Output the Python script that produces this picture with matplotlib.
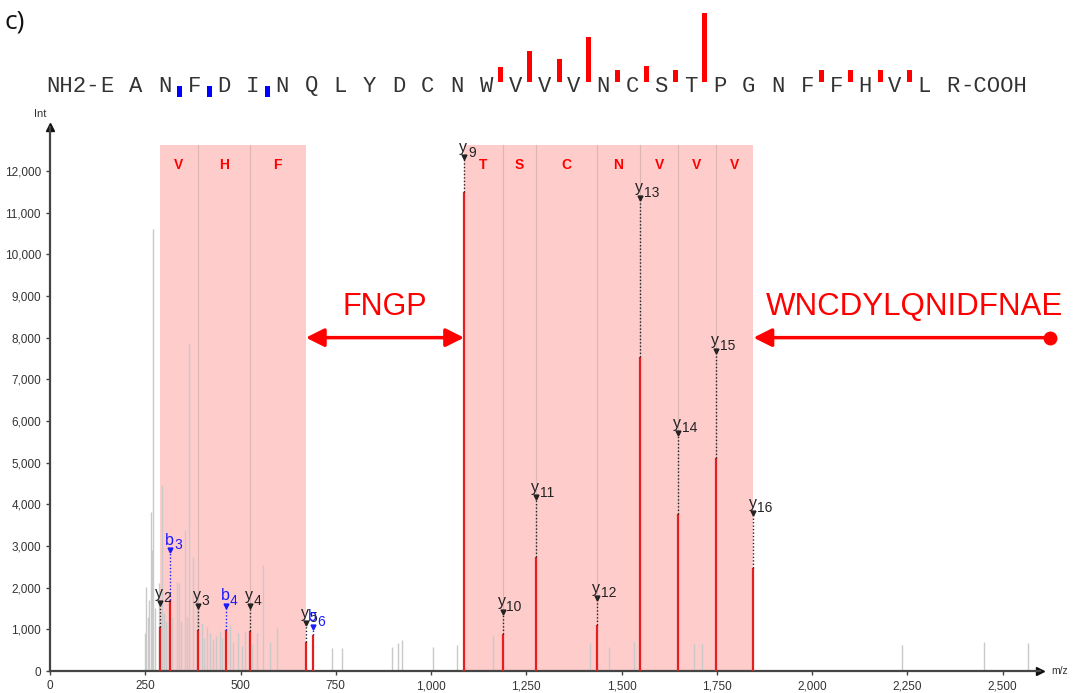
import matplotlib
matplotlib.use('Agg')
import matplotlib.pyplot as plt
from matplotlib.ticker import FuncFormatter

plt.rcParams['font.family'] = ['Liberation Sans', 'DejaVu Sans']

# ── Data ────────────────────────────────────────────────────────────────
sequence = list("EANFDINQLYDCNWVVVNCSTPGNFFHVLR")

# y ions: name, m/z, intensity of the matched peak, height of the label marker
y_names = [2, 3, 4, 5, 9, 10, 11, 12, 13, 14, 15, 16]
y_mz = [288.2, 387.3, 524.3, 671.4, 1086.6, 1187.6, 1274.6, 1434.7,
        1548.7, 1647.8, 1746.9, 1846.0]
y_int = [1060, 980, 960, 700, 11500, 890, 2740, 1100, 7540, 3770, 5110, 2470]
y_lab = [1630, 1560, 1560, 1150, 12330, 1415, 4170, 1750, 11350, 5710, 7680, 3790]

b_names = [3, 4, 6]
b_mz = [315.1, 462.2, 690.3]
b_int = [1700, 980, 860]
b_lab = [2900, 1560, 1060]

# unassigned peaks
gray_mz = [248, 251, 256, 260, 264, 268, 271, 276, 287, 295, 300, 305, 320,
           332, 339, 345, 354, 360, 366, 376, 385, 398, 405, 411, 420, 428,
           436, 445, 452, 472, 480, 493, 503, 512, 530, 542, 560, 578, 595,
           739, 766, 898, 913, 923, 1004, 1067, 1163, 1417, 1468, 1533,
           1690, 1710, 2235, 2450, 2567]
gray_int = [910, 2020, 1300, 1700, 3820, 2900, 10600, 1500, 2110, 4460, 1400,
            1200, 1300, 2140, 2110, 1200, 3380, 1300, 7850, 2740, 1870, 1150,
            800, 1050, 900, 750, 850, 950, 800, 1100, 700, 900, 600, 950, 650,
            900, 2540, 700, 1050, 550, 550, 580, 660, 740, 580, 620, 860, 680,
            580, 700, 650, 650, 620, 700, 680]

# ladders read from the y series (index ranges into y_mz)
ladders = [(0, 3), (4, 11)]
gap_text = ["FNGP", "WNCDYLQNIDFNAE"]

RED = '#e41f1f'
PINK = '#ffcccc'

fig = plt.figure(figsize=(10.76, 6.93), dpi=100)
ax = fig.add_axes([50 / 1076, 22 / 693, 990 / 1076, 544 / 693])
ax.set_xlim(0, 2598)
ax.set_ylim(0, 13055)

# ── Spectrum ────────────────────────────────────────────────────────────
top = 12620
for i0, i1 in ladders:
    ax.axvspan(y_mz[i0], y_mz[i1], ymax=top / 13055, color=PINK, lw=0, zorder=0)
    for k in range(i0 + 1, i1):
        ax.plot([y_mz[k]] * 2, [0, top], color='#ddb5b5', lw=0.8, zorder=1)
    for k in range(i0, i1):
        res = sequence[len(sequence) - y_names[k + 1]]
        ax.text((y_mz[k] + y_mz[k + 1]) / 2, 12150, res, color='#ff0000',
                fontsize=10, fontweight='bold', ha='center', va='center')

ax.vlines(gray_mz, 0, gray_int, color='#c9c9c9', lw=1, zorder=2)
ax.vlines(y_mz, 0, y_int, color=RED, lw=1.6, zorder=3)
ax.vlines(b_mz, 0, b_int, color=RED, lw=1.6, zorder=3)

for names, mz, inten, lab, col, pre in [(y_names, y_mz, y_int, y_lab, '#222222', 'y'),
                                        (b_names, b_mz, b_int, b_lab, '#1a1aff', 'b')]:
    for n, m, i, l in zip(names, mz, inten, lab):
        ax.plot([m, m], [i, l], color=col, lw=1, ls=(0, (1, 1.5)), zorder=4)
        ax.plot(m, l, marker='v', color=col, ms=3.5, zorder=5)
        ax.annotate(pre, (m, l), xytext=(-3.5, 4), textcoords='offset points',
                    ha='left', va='baseline', fontsize=11.5, color=col, zorder=6)
        ax.annotate(str(n), (m, l), xytext=(2.8, 0.5), textcoords='offset points',
                    ha='left', va='baseline', fontsize=10, color=col, zorder=6)

# gaps between ladders
ax.annotate('', xy=(y_mz[3], 8000), xytext=(y_mz[4], 8000),
            arrowprops=dict(arrowstyle='<|-|>,head_length=1.1,head_width=0.55',
                            color='#ff0000', lw=2.5, shrinkA=0, shrinkB=0))
ax.text((y_mz[3] + y_mz[4]) / 2, 8730, gap_text[0], color='#ff0000',
        fontsize=22, ha='center', va='center')
ax.annotate('', xy=(y_mz[11], 8000), xytext=(2625, 8000),
            arrowprops=dict(arrowstyle='-|>,head_length=1.1,head_width=0.55',
                            color='#ff0000', lw=2.5, shrinkA=0, shrinkB=0),
            annotation_clip=False)
ax.plot(2625, 8000, 'o', color='#ff0000', ms=9, clip_on=False)
ax.text(2268, 8730, gap_text[1], color='#ff0000', fontsize=22.5,
        ha='center', va='center', clip_on=False)

# ── Axes styling ────────────────────────────────────────────────────────
for s in ['top', 'right']:
    ax.spines[s].set_visible(False)
for s in ['left', 'bottom']:
    ax.spines[s].set_color('#444444')
    ax.spines[s].set_linewidth(1.6)
ax.plot(1, 0, '>', color='#111111', ms=6, transform=ax.transAxes, clip_on=False)
ax.plot(0, 1, '^', color='#111111', ms=6, transform=ax.transAxes, clip_on=False)

ax.set_xticks(range(0, 2501, 250))
ax.set_yticks(range(0, 12001, 1000))
fmt = FuncFormatter(lambda v, p: f'{int(v):,}')
ax.xaxis.set_major_formatter(fmt)
ax.yaxis.set_major_formatter(fmt)
ax.tick_params(labelsize=8.5, labelcolor='#333333', color='#444444',
               length=3, width=1)
ax.text(1.011, 0, 'm/z', transform=ax.transAxes, fontsize=7.5,
        color='#333333', ha='left', va='center')
ax.text(-0.01, 1.015, 'Int', transform=ax.transAxes, fontsize=8,
        color='#333333', ha='center', va='bottom')

# ── Sequence coverage on top (pixel coordinates) ───────────────────────
seq = fig.add_axes([0, 0, 1, 1], facecolor='none')
seq.set_xlim(0, 1076)
seq.set_ylim(693, 0)
seq.axis('off')

x0, step, base = 107, 29.17, 86
mono = dict(family='Liberation Mono', fontsize=16, color='#333333',
            va='center')
for i, res in enumerate(sequence):
    seq.text(x0 + i * step, base, res, ha='center', **mono)
seq.text(x0 - 7, base, 'NH2-', ha='right', **mono)
seq.text(x0 + (len(sequence) - 1) * step + 7, base, '-COOH', ha='left', **mono)

n = len(sequence)
for name, inten in zip(y_names, y_int):
    xm = x0 + (n - name - 0.5) * step
    h = max(12, 69 * inten / max(y_int))
    seq.bar(xm, h, width=5, bottom=82 - h, color='#ff0000', lw=0)
for name in b_names:
    xm = x0 + (name - 0.5) * step
    seq.bar(xm, 11, width=5, bottom=86, color='#0000ff', lw=0)

fig.text(5 / 1076, 1 - 22 / 693, 'c)', fontsize=19, color='#111111',
         va='center', ha='left', family=['Open Sans', 'DejaVu Sans'])

fig.savefig('out.png', dpi=100)
